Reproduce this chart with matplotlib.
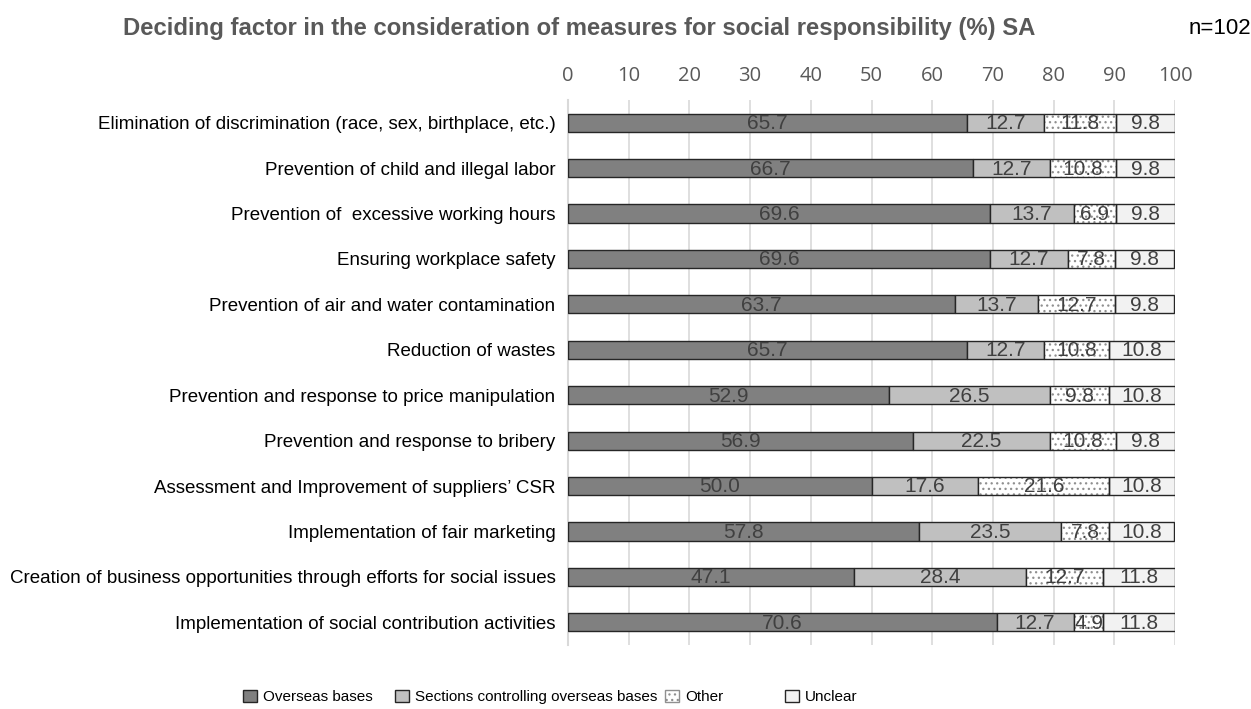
import matplotlib
matplotlib.use("Agg")
import matplotlib.pyplot as plt
from matplotlib.patches import Patch
import numpy as np

categories = [
    "Elimination of discrimination (race, sex, birthplace, etc.)",
    "Prevention of child and illegal labor",
    "Prevention of  excessive working hours",
    "Ensuring workplace safety",
    "Prevention of air and water contamination",
    "Reduction of wastes",
    "Prevention and response to price manipulation",
    "Prevention and response to bribery",
    "Assessment and Improvement of suppliers\u2019 CSR",
    "Implementation of fair marketing",
    "Creation of business opportunities through efforts for social issues",
    "Implementation of social contribution activities",
]
overseas = [65.7, 66.7, 69.6, 69.6, 63.7, 65.7, 52.9, 56.9, 50.0, 57.8, 47.1, 70.6]
sections = [12.7, 12.7, 13.7, 12.7, 13.7, 12.7, 26.5, 22.5, 17.6, 23.5, 28.4, 12.7]
other = [11.8, 10.8, 6.9, 7.8, 12.7, 10.8, 9.8, 10.8, 21.6, 7.8, 12.7, 4.9]
unclear = [9.8, 9.8, 9.8, 9.8, 9.8, 10.8, 10.8, 9.8, 10.8, 10.8, 11.8, 11.8]
series_names = ["Overseas bases", "Sections controlling overseas bases", "Other", "Unclear"]
xticks = list(range(0, 101, 10))

plt.rcParams['hatch.linewidth'] = 0.9

fig = plt.figure(figsize=(12.51, 7.09), dpi=100)
ax = fig.add_axes([568/1251, 1-645/709, (1175-568)/1251, (645-100)/709])

y = np.arange(len(categories))
h = 0.4
txtc = "#404040"
edge = "#262626"
vfs = 15

def labels(left, vals):
    for yi, l, v in zip(y, left, vals):
        ax.text(l + v/2, yi + 0.02, f"{v:.1f}", ha="center", va="center", fontsize=vfs, color=txtc,
                zorder=5, family="Liberation Sans")

left = np.zeros(len(categories))
ax.barh(y, overseas, left=left, height=h, color="#808080", edgecolor=edge, linewidth=1.0, zorder=3)
labels(left, overseas)
left = left + np.array(overseas)
ax.barh(y, sections, left=left, height=h, color="#c0c0c0", edgecolor=edge, linewidth=1.0, zorder=3)
labels(left, sections)
left = left + np.array(sections)
ax.barh(y, other, left=left, height=h, color="white", edgecolor="#909090", linewidth=0, hatch="...", zorder=3)
ax.barh(y, other, left=left, height=h, color="none", edgecolor=edge, linewidth=1.0, zorder=4)
labels(left, other)
left = left + np.array(other)
ax.barh(y, unclear, left=left, height=h, color="#f2f2f2", edgecolor=edge, linewidth=1.0, zorder=3)
labels(left, unclear)

ax.set_xlim(0, 100)
ax.set_ylim(len(categories) - 0.5, -0.5)
ax.set_xticks(xticks)
ax.set_xticklabels([str(t) for t in xticks], family="Open Sans", fontsize=14.5, color="#595959")
ax.xaxis.tick_top()
ax.tick_params(axis="x", length=0, pad=10)
ax.set_yticks(y)
ax.set_yticklabels(categories, family="Liberation Sans", fontsize=13.5, color="#000000")
ax.tick_params(axis="y", length=0, pad=9)
ax.grid(axis="x", color="#d9d9d9", linewidth=1.2, zorder=0)
for s in ["top", "right", "bottom"]:
    ax.spines[s].set_visible(False)
ax.spines["left"].set_color("#d9d9d9")
ax.spines["left"].set_linewidth(1.5)

fig.text(123/1251, 1-28/709, "Deciding factor in the consideration of measures for social responsibility (%) SA",
         ha="left", va="center", fontsize=17.2, fontweight="bold", color="#595959", family="Liberation Sans")
fig.text(1251/1251, 1-28/709, "n=102", ha="right", va="center", fontsize=16, color="#000000",
         family="Liberation Sans")

handles = [
    Patch(facecolor="#808080", edgecolor=edge, label=series_names[0]),
    Patch(facecolor="#c0c0c0", edgecolor=edge, label=series_names[1]),
    Patch(facecolor="white", edgecolor="#909090", hatch="...", label=series_names[2]),
    Patch(facecolor="#f2f2f2", edgecolor=edge, label=series_names[3]),
]
xpos = [243, 395, 665, 785]
for hd, xp in zip(handles, xpos):
    leg = fig.legend(handles=[hd], loc="center left", bbox_to_anchor=(xp/1251, 1-697/709), frameon=False,
                     prop={"family": "Liberation Sans", "size": 11},
                     handlelength=0.9, handleheight=0.9,
                     handletextpad=0.4, borderpad=0, borderaxespad=0)
    for t in leg.get_texts():
        t.set_color("#000000")

fig.savefig("out.png", dpi=100)
